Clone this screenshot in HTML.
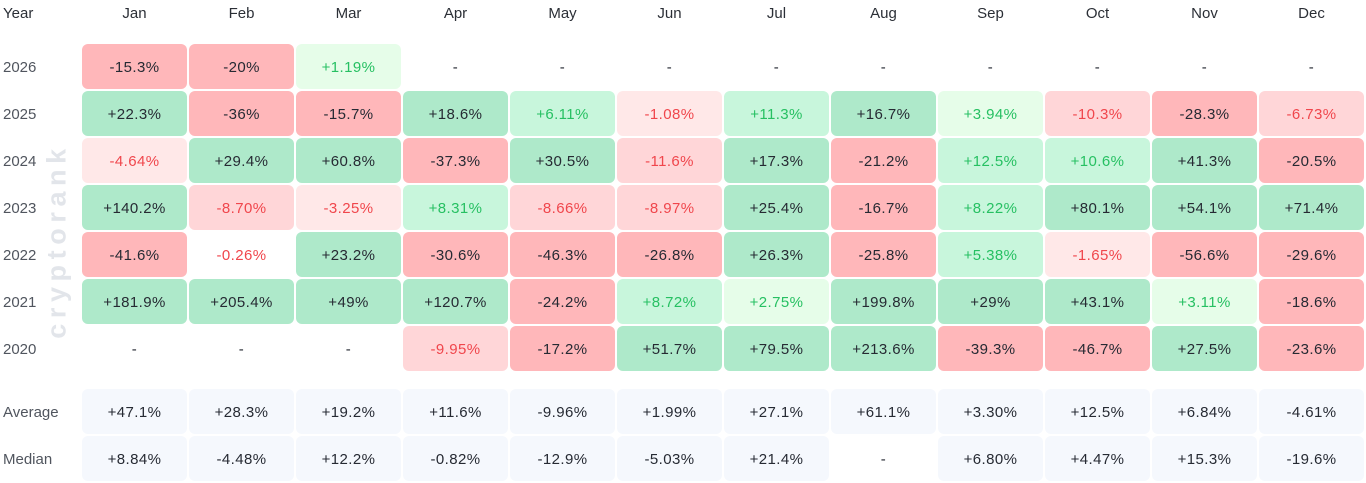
<!DOCTYPE html>
<html><head><meta charset="utf-8"><style>
*{margin:0;padding:0;box-sizing:border-box}
body{width:1366px;height:483px;background:#fff;position:relative;overflow:hidden;font-family:"Liberation Sans",sans-serif;font-size:15px;color:#262a33}
.hd{position:absolute;top:2px;height:24px;line-height:24px;font-size:15px;color:#2b2f36}
.mh{position:absolute;top:2px;left:82px;display:flex;gap:2px}
.mh div{width:105px;text-align:center;height:24px;line-height:24px;color:#2b2f36}
.yl{position:absolute;left:3px;height:45px;display:flex;align-items:center;padding-top:2px;color:#50555e;font-size:15px}
.row{position:absolute;left:82px;display:flex;gap:2px}
.row div{width:105px;height:45px;border-radius:6px;display:flex;align-items:center;justify-content:center;letter-spacing:0.4px;padding-top:1px}
.R{background:#ffb7ba;color:#262a33}
.r{background:#ffd6d8;color:#f0464c}
.l{background:#ffe8e8;color:#f0464c}
.w{background:#fff;color:#f0464c}
.G{background:#aee9ca;color:#262a33}
.g{background:#c8f6dc;color:#26c062}
.h{background:#e6fde9;color:#26c062}
.n{background:#fff;color:#262a33}
.a{background:#f5f8fd;color:#262a33}
.wm{position:absolute;left:57px;top:241px;transform:translate(-50%,-50%) rotate(-90deg);font-size:27px;font-weight:bold;letter-spacing:5.6px;color:#e2e5ea;white-space:nowrap;font-family:"Liberation Sans",sans-serif}
</style></head><body>
<div class="wm">cryptorank</div>
<div class="hd" style="left:3px">Year</div>
<div class="mh"><div>Jan</div><div>Feb</div><div>Mar</div><div>Apr</div><div>May</div><div>Jun</div><div>Jul</div><div>Aug</div><div>Sep</div><div>Oct</div><div>Nov</div><div>Dec</div></div>

<div class="yl" style="top:44px">2026</div>
<div class="yl" style="top:91px">2025</div>
<div class="yl" style="top:138px">2024</div>
<div class="yl" style="top:185px">2023</div>
<div class="yl" style="top:232px">2022</div>
<div class="yl" style="top:279px">2021</div>
<div class="yl" style="top:326px">2020</div>
<div class="yl" style="top:389px">Average</div>
<div class="yl" style="top:436px">Median</div>

<div class="row" style="top:44px">
<div class="R">-15.3%</div><div class="R">-20%</div><div class="h">+1.19%</div><div class="n">-</div><div class="n">-</div><div class="n">-</div><div class="n">-</div><div class="n">-</div><div class="n">-</div><div class="n">-</div><div class="n">-</div><div class="n">-</div>
</div>
<div class="row" style="top:91px">
<div class="G">+22.3%</div><div class="R">-36%</div><div class="R">-15.7%</div><div class="G">+18.6%</div><div class="g">+6.11%</div><div class="l">-1.08%</div><div class="g">+11.3%</div><div class="G">+16.7%</div><div class="h">+3.94%</div><div class="r">-10.3%</div><div class="R">-28.3%</div><div class="r">-6.73%</div>
</div>
<div class="row" style="top:138px">
<div class="l">-4.64%</div><div class="G">+29.4%</div><div class="G">+60.8%</div><div class="R">-37.3%</div><div class="G">+30.5%</div><div class="r">-11.6%</div><div class="G">+17.3%</div><div class="R">-21.2%</div><div class="g">+12.5%</div><div class="g">+10.6%</div><div class="G">+41.3%</div><div class="R">-20.5%</div>
</div>
<div class="row" style="top:185px">
<div class="G">+140.2%</div><div class="r">-8.70%</div><div class="l">-3.25%</div><div class="g">+8.31%</div><div class="r">-8.66%</div><div class="r">-8.97%</div><div class="G">+25.4%</div><div class="R">-16.7%</div><div class="g">+8.22%</div><div class="G">+80.1%</div><div class="G">+54.1%</div><div class="G">+71.4%</div>
</div>
<div class="row" style="top:232px">
<div class="R">-41.6%</div><div class="w">-0.26%</div><div class="G">+23.2%</div><div class="R">-30.6%</div><div class="R">-46.3%</div><div class="R">-26.8%</div><div class="G">+26.3%</div><div class="R">-25.8%</div><div class="g">+5.38%</div><div class="l">-1.65%</div><div class="R">-56.6%</div><div class="R">-29.6%</div>
</div>
<div class="row" style="top:279px">
<div class="G">+181.9%</div><div class="G">+205.4%</div><div class="G">+49%</div><div class="G">+120.7%</div><div class="R">-24.2%</div><div class="g">+8.72%</div><div class="h">+2.75%</div><div class="G">+199.8%</div><div class="G">+29%</div><div class="G">+43.1%</div><div class="h">+3.11%</div><div class="R">-18.6%</div>
</div>
<div class="row" style="top:326px">
<div class="n">-</div><div class="n">-</div><div class="n">-</div><div class="r">-9.95%</div><div class="R">-17.2%</div><div class="G">+51.7%</div><div class="G">+79.5%</div><div class="G">+213.6%</div><div class="R">-39.3%</div><div class="R">-46.7%</div><div class="G">+27.5%</div><div class="R">-23.6%</div>
</div>
<div class="row" style="top:389px">
<div class="a">+47.1%</div><div class="a">+28.3%</div><div class="a">+19.2%</div><div class="a">+11.6%</div><div class="a">-9.96%</div><div class="a">+1.99%</div><div class="a">+27.1%</div><div class="a">+61.1%</div><div class="a">+3.30%</div><div class="a">+12.5%</div><div class="a">+6.84%</div><div class="a">-4.61%</div>
</div>
<div class="row" style="top:436px">
<div class="a">+8.84%</div><div class="a">-4.48%</div><div class="a">+12.2%</div><div class="a">-0.82%</div><div class="a">-12.9%</div><div class="a">-5.03%</div><div class="a">+21.4%</div><div class="n">-</div><div class="a">+6.80%</div><div class="a">+4.47%</div><div class="a">+15.3%</div><div class="a">-19.6%</div>
</div>
</body></html>
